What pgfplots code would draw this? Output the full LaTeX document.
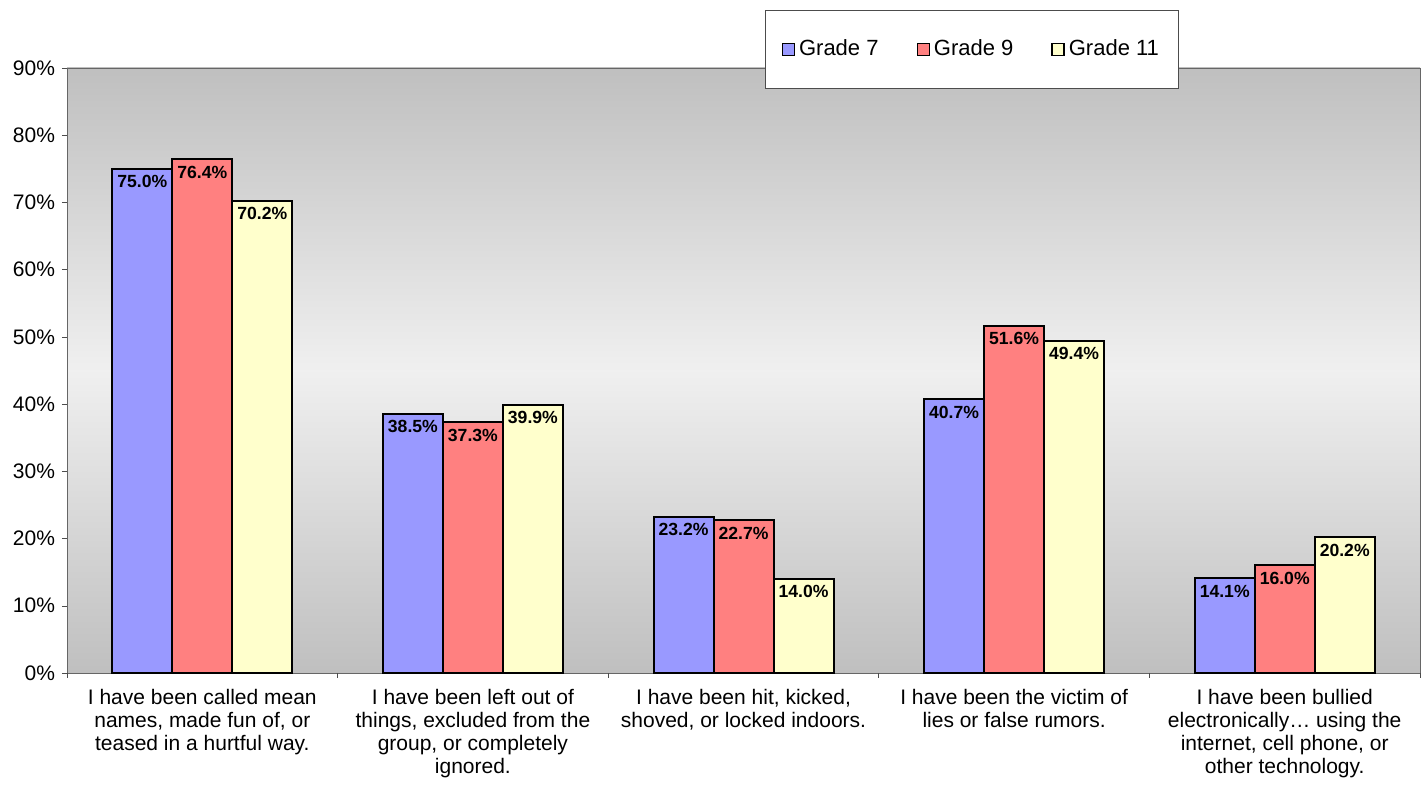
\documentclass[border=0pt]{standalone}
\usepackage{fontspec}
\setmainfont{Liberation Sans}
\usepackage{pgfplots}
\pgfplotsset{compat=1.18}

\definecolor{gseven}{HTML}{9999FF}
\definecolor{gnine}{HTML}{FF8080}
\definecolor{geleven}{HTML}{FFFFCC}

\begin{document}
\begin{tikzpicture}[font=\fontsize{10.5pt}{11.5pt}\selectfont]
\begin{axis}[
  scale only axis, width=676.5pt, height=302.5pt,
  xmin=-0.5, xmax=4.5, ymin=0, ymax=90,
  ybar=0pt, bar width=30pt, clip=false,
  axis background/.style={shade, top color=black!25, bottom color=black!25, middle color=black!6},
  axis line style={draw=black!60},
  tick align=outside, tick pos=left,
  major tick length=2.5pt,
  tick style={draw=black!70},
  ytick={0,10,...,90},
  yticklabel={\pgfmathprintnumber{\tick}\%},
  /pgf/number format/assume math mode=true,
  xtick={0,...,4},
  xtick style={draw=none},
  xticklabels={
    {I have been called mean\\names, made fun of, or\\teased in a hurtful way.},
    {I have been left out of\\things, excluded from the\\group, or completely\\ignored.},
    {I have been hit, kicked,\\shoved, or locked indoors.},
    {I have been the victim of\\lies or false rumors.},
    {I have been bullied\\electronically… using the\\internet, cell phone, or\\other technology.}},
  xticklabel style={align=center, yshift=-2.3pt},
  every axis plot/.append style={draw=black, line width=1pt},
  nodes near coords={\pgfmathprintnumber[fixed,fixed zerofill,precision=1]{\pgfplotspointmeta}\%},
  every node near coord/.append style={font=\fontsize{8.8pt}{10pt}\selectfont\bfseries, inner sep=0pt, yshift=-10pt, text=black},
  legend columns=3,
  legend style={at={(0.516,1.096)}, anchor=north west, draw=black!70, fill=white,
    inner xsep=8pt, inner ysep=12.75pt, line width=0.5pt, font=\fontsize{11pt}{13pt}\selectfont,
    /tikz/every even column/.append style={column sep=17pt}},
  legend image code/.code={\draw[#1, line width=0.7pt] (0pt,-3pt) rectangle (6pt,3pt);},
]
\addplot[fill=gseven] coordinates {(0,75.0) (1,38.5) (2,23.2) (3,40.7) (4,14.1)};
\addplot[fill=gnine] coordinates {(0,76.4) (1,37.3) (2,22.7) (3,51.6) (4,16.0)};
\addplot[fill=geleven] coordinates {(0,70.2) (1,39.9) (2,14.0) (3,49.4) (4,20.2)};
\legend{Grade 7, Grade 9, Grade 11}
\pgfplotsinvokeforeach{-0.5,0.5,1.5,2.5,3.5,4.5}{\draw[black!70, line width=0.4pt] (axis cs:#1,0) -- ++(0pt,-2.5pt);}
\coordinate (sw) at (rel axis cs:0,0);
\coordinate (ne) at (rel axis cs:1,1);
\end{axis}
\pgfresetboundingbox
\path ([shift={(-33.5pt,-57.5pt)}]sw) rectangle ([shift={(2pt,34pt)}]ne);
\end{tikzpicture}
\end{document}
